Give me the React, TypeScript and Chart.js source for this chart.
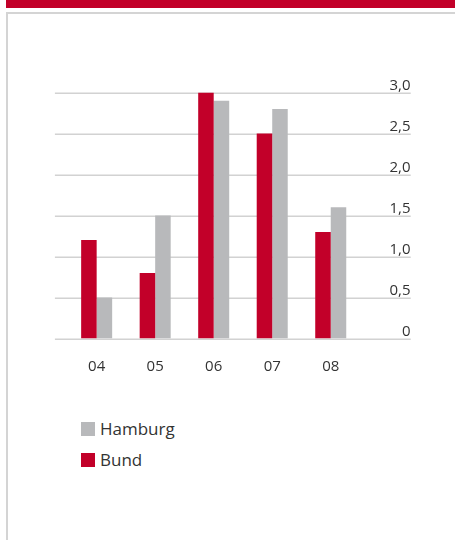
import React, { useEffect, useRef } from "react";
import { Chart, registerables } from "chart.js";

Chart.register(...registerables);

const categories = ["04", "05", "06", "07", "08"];
const bundValues = [1.2, 0.8, 3.0, 2.5, 1.3];
const hamburgValues = [0.5, 1.5, 2.9, 2.8, 1.6];
const yTickValues = [0, 0.5, 1, 1.5, 2, 2.5, 3];
const yTickLabels = ["0", "0,5", "1,0", "1,5", "2,0", "2,5", "3,0"];
const legendItems = [
  { label: "Hamburg", color: "#B8B9BB" },
  { label: "Bund", color: "#C20029" },
];

const RED = "#C20029";
const GREY = "#B8B9BB";
const FONT = "'Open Sans', 'Noto Sans', sans-serif";

const gridPlugin = {
  id: "customGrid",
  beforeDatasetsDraw(chart: any) {
    const { ctx, chartArea, scales } = chart;
    const y = scales.y;
    ctx.save();
    ctx.strokeStyle = "#D2D2D2";
    ctx.lineWidth = 1.5;
    yTickValues.forEach((v) => {
      const py = Math.round(y.getPixelForValue(v)) + 0.25;
      ctx.beginPath();
      ctx.moveTo(chartArea.left - 12.5, py);
      ctx.lineTo(chartArea.right + 50.7, py);
      ctx.stroke();
    });
    ctx.restore();
  },
  afterDraw(chart: any) {
    const { ctx, chartArea, scales } = chart;
    const y = scales.y;
    ctx.save();
    ctx.fillStyle = "#333333";
    ctx.font = `15px ${FONT}`;
    ctx.textAlign = "right";
    ctx.textBaseline = "alphabetic";
    yTickValues.forEach((v, i) => {
      const py = y.getPixelForValue(v);
      ctx.fillText(yTickLabels[i], chartArea.right + 50.5, py - 3);
    });
    ctx.restore();
  },
};

export default function App() {
  const canvasRef = useRef<HTMLCanvasElement | null>(null);

  useEffect(() => {
    if (!canvasRef.current) return;
    const chart = new Chart(canvasRef.current, {
      type: "bar",
      data: {
        labels: categories,
        datasets: [
          { label: "Bund", data: bundValues, backgroundColor: RED, borderWidth: 0 },
          { label: "Hamburg", data: hamburgValues, backgroundColor: GREY, borderWidth: 0 },
        ],
      },
      options: {
        responsive: false,
        animation: false,
        layout: { padding: { left: 67.4, right: 95, top: 92.5, bottom: 5.5 } },
        datasets: { bar: { categoryPercentage: 0.53, barPercentage: 1.0 } },
        plugins: { legend: { display: false }, tooltip: { enabled: false } },
        scales: {
          x: {
            grid: { display: false, drawTicks: false, tickLength: 0 },
            border: { display: false },
            ticks: { color: "#333333", font: { family: FONT, size: 15 }, padding: 19 },
          },
          y: { display: false, min: 0, max: 3 },
        },
      },
      plugins: [gridPlugin],
    });
    return () => chart.destroy();
  }, []);

  return (
    <div style={{ position: "fixed", left: 0, top: 0, width: 455, height: 540, background: "#fff", overflow: "hidden", fontFamily: FONT }}>
      <div style={{ position: "absolute", left: 6, top: 0, width: 449, height: 8, background: RED }} />
      <div style={{ position: "absolute", left: 6, top: 12, right: 0, bottom: 0, borderTop: "2px solid #D4D4D4", borderLeft: "2px solid #D4D4D4" }} />
      <canvas ref={canvasRef} width={455} height={400} style={{ position: "absolute", left: 0, top: 0, width: 455, height: 400 }} />
      {legendItems.map((item, i) => (
        <div key={item.label} style={{ position: "absolute", left: 81, top: 422 + i * 31, height: 14, display: "flex", alignItems: "center" }}>
          <div style={{ width: 14, height: 14, background: item.color }} />
          <span style={{ marginLeft: 5, fontSize: 17, color: "#333", lineHeight: "14px", whiteSpace: "nowrap" }}>{item.label}</span>
        </div>
      ))}
    </div>
  );
}
